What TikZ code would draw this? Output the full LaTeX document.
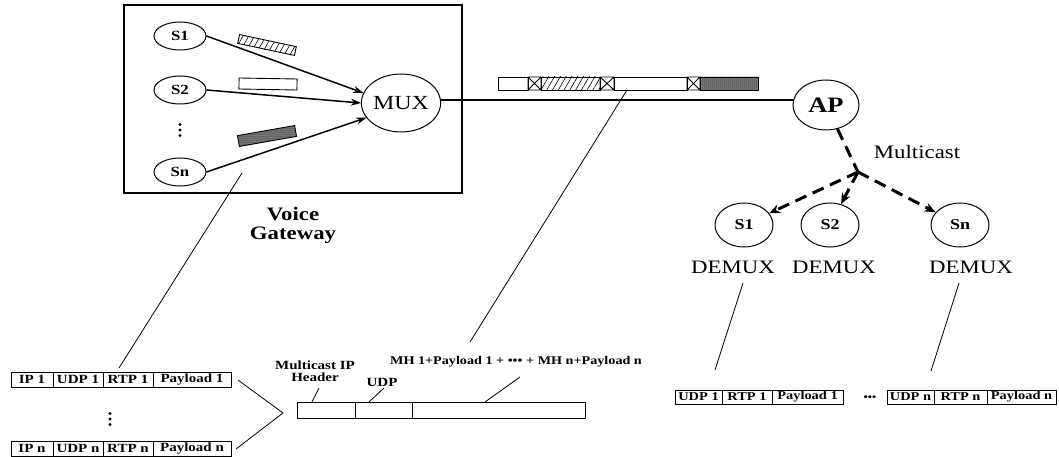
\documentclass[tikz,border=0pt]{standalone}
\usepackage{fontspec}
\setmainfont{Liberation Serif}[FakeStretch=1.2]
\usetikzlibrary{shapes.geometric,arrows.meta,patterns.meta}
\newcommand\fz[1]{\fontsize{#1}{#1}\selectfont}
\newcommand\xbox[2]{\draw[thinline] (#1,77) rectangle (#2,90) (#1,77) -- (#2,90) (#1,90) -- (#2,77);}
\newcommand\vdotsat[2]{\fill (#1,#2-5.5) circle (1.7pt) (#1,#2) circle (1.7pt) (#1,#2+5.5) circle (1.7pt);}
\begin{document}
\begin{tikzpicture}[x=1pt,y=-1pt,
  thinline/.style={line width=0.9pt},
  gws/.style={ellipse, draw, line width=1pt, minimum width=52pt, minimum height=28pt, inner sep=0pt, font=\bfseries\fz{14}},
  dms/.style={ellipse, draw, line width=1pt, minimum width=58pt, minimum height=44pt, inner sep=0pt, font=\bfseries\fz{15}},
  arr/.style={line width=1.5pt, -{Stealth[length=10pt,width=7pt]}},
  marr/.style={line width=3pt, dash pattern=on 12pt off 7pt, -{Stealth[length=11pt,width=9pt]}},
  mline/.style={line width=3pt, dash pattern=on 12pt off 7pt},
  cell/.style={draw, line width=1pt, minimum height=15pt, inner sep=0pt, font=\bfseries\fz{12.5}},
  rcell/.style={cell, minimum height=14pt, font=\bfseries\fz{12}},
  pkt/.style={draw, line width=0.9pt, minimum width=58pt, inner sep=0pt},
  lbl/.style={inner sep=0pt},
  conn/.style={line width=0.8pt}
]
\useasboundingbox (0,0) rectangle (1059,457);

% Voice gateway box
\node[draw, line width=1.2pt, minimum width=338pt, minimum height=188pt, inner sep=0pt] (vgbox) at (293,99) {};
\node[gws] (s1) at (180,36) {S1};
\node[gws] (s2) at (180,90) {S2};
\vdotsat{180}{130}
\node[gws] (sn) at (180,172) {Sn};
\node[ellipse, draw, line width=1pt, minimum width=78pt, minimum height=58pt, inner sep=0pt, font=\fz{20}] (mux) at (401,103) {MUX};
\draw[arr] (s1.east) -- (mux.165);
\draw[arr] (s2.east) -- (mux.180);
\draw[arr] (sn.east) -- (mux.203);
\node[pkt, minimum height=9pt, rotate=-12, pattern={Lines[angle=60,distance=5pt,line width=0.6pt]}] (pk1) at (267,45) {};
\node[pkt, minimum height=11pt, rotate=-1] (pk2) at (268,84) {};
\node[pkt, minimum height=11pt, rotate=10, preaction={fill=black!50}, pattern={Dots[distance=2pt,radius=0.5pt]}] (pk3) at (267,136) {};
\node[lbl, font=\bfseries\fz{19}, align=center] (vgl) at (293,225) {Voice\\[0pt]Gateway};

% AP and link
\node[ellipse, draw, line width=1pt, minimum width=66pt, minimum height=50pt, inner sep=0pt, font=\bfseries\fz{22}] (ap) at (826,105) {AP};
\draw[line width=1.5pt] (mux.east |- 0,100) -- (ap.west |- 0,100);

% multiplexed packet bar
\draw[thinline] (498,77) rectangle (528,90);
\xbox{528}{541}
\draw[thinline, pattern={Lines[angle=60,distance=5pt,line width=0.6pt]}] (541,77) rectangle (600,90);
\xbox{600}{614}
\draw[thinline] (614,77) rectangle (687,90);
\xbox{687}{700}
\draw[thinline, preaction={fill=black!50}, pattern={Dots[distance=2pt,radius=0.5pt]}] (700,77) rectangle (758,90);

% multicast
\coordinate (j) at (858,172);
\draw[mline] (ap) -- (j);
\node[lbl, font=\fz{19}] (mc) at (917,152) {Multicast};
\node[dms] (d1) at (744,225) {S1};
\node[dms] (d2) at (830,225) {S2};
\node[dms] (dn) at (960,225) {Sn};
\draw[marr] (j) -- (d1);
\draw[marr] (j) -- (d2);
\draw[marr] (j) -- (dn);
\node[lbl, font=\fz{19}] (dm1) at (733,267) {DEMUX};
\node[lbl, font=\fz{19}] (dm2) at (834,267) {DEMUX};
\node[lbl, font=\fz{19}] (dmn) at (971,267) {DEMUX};

% bottom left packets
\node[cell, minimum width=42pt] (ip1) at (32,379.5) {IP 1};
\node[cell, minimum width=50pt] (udp1) at (78,379.5) {UDP 1};
\node[cell, minimum width=50pt] (rtp1) at (128,379.5) {RTP 1};
\node[cell, minimum width=78pt] (pl1) at (192,379.5) {Payload 1};
\vdotsat{110}{419}
\node[cell, minimum width=42pt] (ipn) at (32,448.5) {IP n};
\node[cell, minimum width=50pt] (udpn) at (78,448.5) {UDP n};
\node[cell, minimum width=50pt] (rtpn) at (128,448.5) {RTP n};
\node[cell, minimum width=78pt] (pln) at (192,448.5) {Payload n};
\coordinate (cha) at (238,380);
\coordinate (chb) at (283,413);
\coordinate (chc) at (236,449);
\draw[conn] (cha) -- (chb) -- (chc);

% middle multicast packet
\node[draw, line width=1pt, minimum width=58pt, minimum height=16pt, inner sep=0pt] (mhdr) at (326,410) {};
\node[draw, line width=1pt, minimum width=57pt, minimum height=16pt, inner sep=0pt] (mudp) at (383.5,410) {};
\node[draw, line width=1pt, minimum width=173pt, minimum height=16pt, inner sep=0pt] (mpay) at (498.5,410) {};
\node[lbl, font=\bfseries\fz{12.5}, align=center] (lhdr) at (315,371) {Multicast IP\\[0pt]Header};
\node[lbl, font=\bfseries\fz{12.5}] (ludp) at (382,382) {UDP};
\node[lbl, font=\bfseries\fz{11.8}] (lmh) at (516,362) {MH 1+Payload 1 + ••• + MH n+Payload n};
\draw[conn] (319,388) -- (312,402);
\draw[conn] (384,388) -- (369,402);
\draw[conn] (520,377) -- (485,402);

% bottom right packets
\node[rcell, minimum width=47pt] (rudp1) at (698.5,397) {UDP 1};
\node[rcell, minimum width=50pt] (rrtp1) at (747,397) {RTP 1};
\node[rcell, minimum width=71pt] (rpl1) at (807.5,397) {Payload 1};
\node[lbl, font=\bfseries\fz{10}] (rdots) at (870,398) {•••};
\node[rcell, minimum width=47pt] (rudpn) at (910.5,397) {UDP n};
\node[rcell, minimum width=53pt] (rrtpn) at (960.5,397) {RTP n};
\node[rcell, minimum width=69pt] (rpln) at (1021.5,397) {Payload n};

% long leader lines
\coordinate (vga) at (242,173);
\coordinate (vgb) at (119,368);
\draw[conn] (vga) -- (vgb);
\coordinate (bara) at (627,90);
\coordinate (barb) at (470,342);
\draw[conn] (bara) -- (barb);
\coordinate (d1a) at (743,283);
\coordinate (d1b) at (715,370);
\draw[conn] (d1a) -- (d1b);
\coordinate (dna) at (959,283);
\coordinate (dnb) at (931,371);
\draw[conn] (dna) -- (dnb);
\end{tikzpicture}
\end{document}
